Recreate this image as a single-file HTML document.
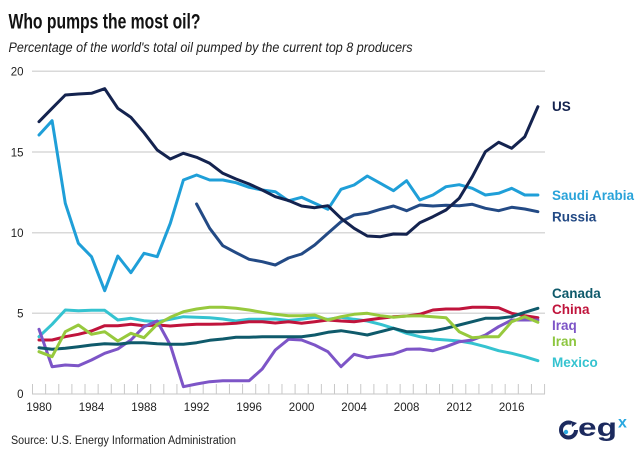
<!DOCTYPE html>
<html><head><meta charset="utf-8"><style>
html,body{margin:0;padding:0;background:#fff;}
svg{display:block;}
text{font-family:"Liberation Sans",sans-serif;}
</style></head><body>
<svg width="640" height="456" viewBox="0 0 640 456" xmlns="http://www.w3.org/2000/svg">
<rect width="640" height="456" fill="#fff"/>
<text x="8.5" y="28.5" font-size="21" font-weight="bold" fill="#111" textLength="192" lengthAdjust="spacingAndGlyphs">Who pumps the most oil?</text>
<text x="8.5" y="52" font-size="13.5" font-style="italic" fill="#222" textLength="404" lengthAdjust="spacingAndGlyphs">Percentage of the world's total oil pumped by the current top 8 producers</text>

<g stroke="#d9d9d9" stroke-width="1.5">
<line x1="32" y1="71.3" x2="545" y2="71.3"/>
<line x1="32" y1="152" x2="545" y2="152"/>
<line x1="32" y1="232.7" x2="545" y2="232.7"/>
<line x1="32" y1="313.3" x2="545" y2="313.3"/>
<line x1="32" y1="394" x2="545" y2="394"/>
</g>
<path stroke="#c8c8c8" stroke-width="1" fill="none" d="M32.5 384V394M45.63 384V394M58.76 384V394M71.89 384V394M85.02 384V394M98.15 384V394M111.28 384V394M124.41 384V394M137.54 384V394M150.67 384V394M163.8 384V394M176.93 384V394M190.06 384V394M203.19 384V394M216.32 384V394M229.45 384V394M242.58 384V394M255.71 384V394M268.84 384V394M281.97 384V394M295.1 384V394M308.23 384V394M321.36 384V394M334.49 384V394M347.62 384V394M360.75 384V394M373.88 384V394M387.01 384V394M400.14 384V394M413.27 384V394M426.4 384V394M439.53 384V394M452.66 384V394M465.79 384V394M478.92 384V394M492.05 384V394M505.18 384V394M518.31 384V394M531.44 384V394M544.57 384V394"/>

<g font-size="11.5" fill="#222" text-anchor="end">
<text x="23.5" y="75.5">20</text>
<text x="23.5" y="156.3">15</text>
<text x="23.5" y="237">10</text>
<text x="23.5" y="317.5">5</text>
<text x="23.5" y="398">0</text>
</g>
<g font-size="11.5" fill="#222" text-anchor="middle">
<text x="39" y="411">1980</text>
<text x="91.5" y="411">1984</text>
<text x="144" y="411">1988</text>
<text x="196.6" y="411">1992</text>
<text x="249.1" y="411">1996</text>
<text x="301.6" y="411">2000</text>
<text x="354.1" y="411">2004</text>
<text x="406.6" y="411">2008</text>
<text x="459.2" y="411">2012</text>
<text x="511.7" y="411">2016</text>
</g>

<g fill="none" stroke-width="3" stroke-linejoin="round" stroke-linecap="round">
<polyline stroke="#35c3d0" points="39,336.7 52.1,324.3 65.3,310 78.4,310.7 91.5,310.3 104.7,310.3 117.8,320 130.9,318.3 144,320.7 157.2,321.7 170.3,319.3 183.4,316.7 196.6,317.3 209.7,317.7 222.8,319 236,321 249.1,319.3 262.2,319.3 275.3,319 288.5,320.5 301.6,319.3 314.7,317.3 327.9,319.3 341,317.3 354.1,319.3 367.3,321 380.4,324.3 393.5,328.3 406.6,333.3 419.8,336.7 432.9,339 446,340 459.2,341 472.3,343.3 485.4,346.7 498.6,350.7 511.7,353.3 524.8,356.7 537.9,360.7"/>
<polyline stroke="#c0143c" points="39,340 52.1,340 65.3,336.7 78.4,334.3 91.5,331 104.7,325.7 117.8,325.7 130.9,324.3 144,325.7 157.2,325 170.3,326 183.4,325 196.6,324.3 209.7,324.3 222.8,324 236,323.3 249.1,321.7 262.2,321.7 275.3,323 288.5,321.7 301.6,323.3 314.7,321.7 327.9,320 341,321 354.1,321.7 367.3,320 380.4,318.3 393.5,316.7 406.6,316 419.8,314.3 432.9,310 446,309 459.2,309 472.3,307.3 485.4,307.3 498.6,307.7 511.7,313.3 524.8,315.7 537.9,317.7"/>
<polyline stroke="#7d55c7" points="39,329.3 52.1,366.7 65.3,365 78.4,365.7 91.5,360 104.7,353.3 117.8,349 130.9,340 144,326.7 157.2,321 170.3,345 183.4,386.7 196.6,384 209.7,381.7 222.8,380.7 236,380.7 249.1,380.7 262.2,369 275.3,350 288.5,339.3 301.6,340 314.7,345 327.9,351.7 341,366.7 354.1,354.3 367.3,357.7 380.4,355.7 393.5,354 406.6,349.3 419.8,349 432.9,350.7 446,346.7 459.2,341.7 472.3,340 485.4,335 498.6,326.7 511.7,320 524.8,320 537.9,320"/>
<polyline stroke="#0f5a6b" points="39,347.7 52.1,349.3 65.3,348.3 78.4,346.7 91.5,345 104.7,343.7 117.8,344.3 130.9,342.7 144,342.7 157.2,343.7 170.3,344.3 183.4,344.3 196.6,342.7 209.7,340.3 222.8,339 236,337.3 249.1,337.3 262.2,336.7 275.3,336.7 288.5,336.7 301.6,336.7 314.7,335 327.9,332.3 341,330.7 354.1,332.7 367.3,335 380.4,331.7 393.5,328.3 406.6,331.7 419.8,331.7 432.9,331 446,328.3 459.2,325 472.3,321.7 485.4,318.3 498.6,318.3 511.7,316.7 524.8,312.3 537.9,308.3"/>
<polyline stroke="#97c93d" points="39,351.7 52.1,356.7 65.3,331.7 78.4,325 91.5,334.3 104.7,331.7 117.8,341 130.9,333.3 144,337.7 157.2,324.3 170.3,317.3 183.4,311.7 196.6,309 209.7,307.3 222.8,307.3 236,308.3 249.1,310 262.2,312.3 275.3,314.3 288.5,315.7 301.6,315.7 314.7,315 327.9,320 341,316.7 354.1,314.3 367.3,313.3 380.4,315.7 393.5,317.3 406.6,316 419.8,315.7 432.9,316.7 446,317.7 459.2,331.7 472.3,337.7 485.4,336.7 498.6,336.7 511.7,321.7 524.8,316.7 537.9,322.3"/>
<polyline stroke="#234a85" points="196.6,204 209.7,228.3 222.8,245.7 236,252.7 249.1,259.3 262.2,261.7 275.3,265 288.5,258 301.6,254 314.7,245 327.9,233.3 341,221.7 354.1,215 367.3,213.3 380.4,209.3 393.5,206 406.6,210.7 419.8,205 432.9,206 446,205.3 459.2,205.7 472.3,204.3 485.4,208.3 498.6,210.7 511.7,207.3 524.8,209 537.9,211.7"/>
<polyline stroke="#1f9fd8" points="39,135 52.1,120.7 65.3,203.3 78.4,243.3 91.5,256.7 104.7,290.7 117.8,256 130.9,272.7 144,253.3 157.2,256.7 170.3,223.3 183.4,180 196.6,175 209.7,180 222.8,180 236,182.7 249.1,187.3 262.2,190 275.3,191.7 288.5,200.8 301.6,197.3 314.7,203.3 327.9,209.3 341,189.3 354.1,185 367.3,176 380.4,183.3 393.5,190.7 406.6,180.7 419.8,200 432.9,195 446,186.7 459.2,184.7 472.3,188.3 485.4,195 498.6,193.3 511.7,188.3 524.8,195 537.9,195"/>
<polyline stroke="#14234f" points="39,121.7 52.1,108.3 65.3,95 78.4,94 91.5,93.3 104.7,88.7 117.8,108.3 130.9,117.3 144,132.7 157.2,150 170.3,159 183.4,153.3 196.6,157.3 209.7,163.3 222.8,173.3 236,179 249.1,184 262.2,190 275.3,196.7 288.5,200.5 301.6,206 314.7,207.7 327.9,205.7 341,218.3 354.1,228.3 367.3,236 380.4,236.7 393.5,234 406.6,234.3 419.8,222.7 432.9,216.7 446,210 459.2,198.3 472.3,176.7 485.4,151.7 498.6,142.3 511.7,148.3 524.8,136.7 537.9,106.7"/>
</g>

<g font-size="13.5" font-weight="bold">
<text x="552" y="111" fill="#14234f">US</text>
<text x="552" y="200" fill="#29a3d9">Saudi Arabia</text>
<text x="552" y="221.5" fill="#234a85">Russia</text>
<text x="552" y="298" fill="#0f5a6b">Canada</text>
<text x="552" y="314" fill="#c0143c">China</text>
<text x="552" y="330" fill="#7d55c7">Iraq</text>
<text x="552" y="346" fill="#8dc63f">Iran</text>
<text x="552" y="367" fill="#35c3d0">Mexico</text>
</g>

<text x="11" y="444" font-size="11.5" fill="#222" textLength="225" lengthAdjust="spacingAndGlyphs">Source: U.S. Energy Information Administration</text>

<g>
<circle cx="568.5" cy="430" r="7.5" fill="none" stroke="#1c2a5e" stroke-width="4" stroke-dasharray="38 9"/>
<path d="M571 421 L577 423 L572 427 Z" fill="#1c2a5e"/>
<circle cx="566" cy="432" r="2.2" fill="#29a8e0"/>
<text x="578" y="436" font-size="25" font-weight="bold" fill="#1c2a5e" textLength="39" lengthAdjust="spacingAndGlyphs">eg</text>
<text x="618" y="427.5" font-size="16" font-weight="bold" fill="#29a8e0">x</text>
</g>
</svg>
</body></html>
